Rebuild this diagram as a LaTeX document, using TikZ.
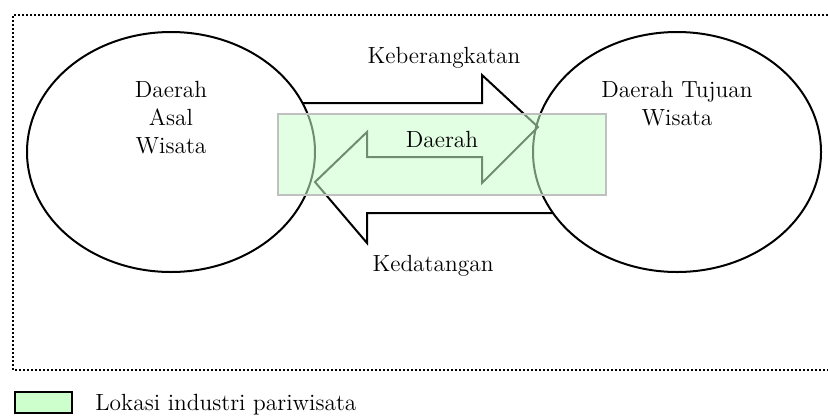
\documentclass[tikz,border=0pt]{standalone}
\usepackage{fontspec}
\usetikzlibrary{shapes.geometric}
\definecolor{lokasi}{RGB}{204,255,204}
\definecolor{tepi}{RGB}{192,192,192}
\tikzset{
	wilayah/.style={ellipse,draw,line width=1pt,minimum width=144pt,minimum height=120pt,inner sep=0pt,outer sep=0pt},
	teks/.style={anchor=base,inner sep=0pt,align=center}
}
\begin{document}
	\begin{tikzpicture}[x=0.5pt,y=-0.5pt,font=\fontsize{11.7}{14}\selectfont]
		\useasboundingbox (0,0) rectangle (828,418);
		\draw[line width=0.9pt,dash pattern=on 0.9pt off 1.1pt] (828,15) -- (13,15) -- (13,370) -- (828,370);
		\node[wilayah] (asal) at (171,152) {};
		\node[wilayah] (tujuan) at (677,152) {};
		% panah pergi dan pulang
		\draw[line width=1pt,line join=miter] (302,103) -- (482,103) -- (482,75) -- (538,127) -- (482,183) -- (482,157)
			-- (367,157) -- (367,132) -- (315,182) -- (367,243) -- (367,213) -- (553,213);
		\node[fill=lokasi,fill opacity=0.55,draw=tepi,line width=0.8pt,minimum width=164pt,minimum height=40.5pt,inner sep=0pt] (daerah) at (442,154.5) {};
		\node[teks] (asalteks) at (171,153) {Daerah\\Asal\\Wisata};
		\node[teks] (tujuanteks) at (677,125) {Daerah Tujuan\\Wisata};
		\node[teks] (pergi) at (444,63) {Keberangkatan};
		\node[teks] (pulang) at (433,271) {Kedatangan};
		\node[teks] (transit) at (442,147) {Daerah};
		% keterangan
		\node[draw,line width=1.3pt,fill=lokasi,minimum width=28.5pt,minimum height=10.5pt,inner sep=0pt] (kotak) at (43.5,402.5) {};
		\node[teks,anchor=base west] (ket) at (95,410) {Lokasi industri pariwisata};
	\end{tikzpicture}
\end{document}
